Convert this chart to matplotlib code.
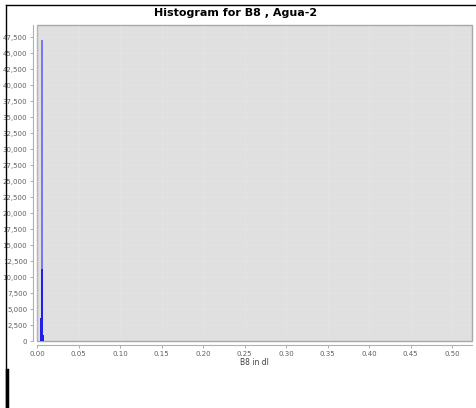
import numpy as np
import matplotlib
matplotlib.use("Agg")
import matplotlib.pyplot as plt
from matplotlib.lines import Line2D
from matplotlib.ticker import FuncFormatter, MultipleLocator

# histogram values (two series overlap in one column)
bin_centers = [0.0045, 0.0060, 0.0060, 0.0080]
bin_counts = [3600, 47000, 11200, 900]
bin_colors = ["#2020e8", "#7878f4", "#2020e8", "#2020e8"]
bin_width = 0.0015

title = "Histogram for B8 , Agua-2"
x_label = "B8 in dl"

fig = plt.figure(figsize=(4.77, 4.08), dpi=100)
fig.patch.set_facecolor("white")

# plot area
ax = fig.add_axes([37 / 477, 1 - 341 / 408, 435 / 477, 316 / 408])
ax.set_facecolor("#e0e0e0")
ax.patch.set_edgecolor("#a8a8a8")
ax.patch.set_linewidth(1.0)

for x, h, c in zip(bin_centers, bin_counts, bin_colors):
    ax.bar(x, h, width=bin_width, color=c, linewidth=0, align="center", zorder=3)

ax.set_xlim(0, 0.524)
ax.set_ylim(0, 49400)
ax.xaxis.set_major_locator(MultipleLocator(0.05))
ax.yaxis.set_major_locator(MultipleLocator(2500))
ax.xaxis.set_major_formatter(FuncFormatter(lambda v, p: "{:.2f}".format(v)))
ax.yaxis.set_major_formatter(FuncFormatter(lambda v, p: "{:,.0f}".format(v)))

ax.grid(True, color="#f2f2f2", linestyle=(0, (1, 2)), linewidth=0.4, zorder=1)
ax.set_axisbelow(True)

# offset axis lines like the original
for side in ["top", "right"]:
    ax.spines[side].set_visible(False)
for side in ["left", "bottom"]:
    ax.spines[side].set_position(("outward", 3))
    ax.spines[side].set_color("#b0b0b0")
    ax.spines[side].set_linewidth(0.8)

ax.tick_params(axis="both", length=2, width=0.6, color="#a0a0a0",
               labelsize=5, labelcolor="#606060", pad=2)
ax.set_xlabel(x_label, fontsize=5.5, color="#404040", labelpad=1)

fig.text(236 / 477, 1 - 13 / 408, title, ha="center", va="center",
         fontsize=8, fontweight="bold", color="black")

# frame lines around the figure
fig.add_artist(Line2D([6.5 / 477, 6.5 / 477], [0, 1 - 5 / 408],
                      transform=fig.transFigure, color="black", linewidth=1))
fig.add_artist(Line2D([7.5 / 477, 7.5 / 477], [0, 1 - 370 / 408],
                      transform=fig.transFigure, color="black", linewidth=2.5))
fig.add_artist(Line2D([6 / 477, 1], [1 - 5 / 408, 1 - 5 / 408],
                      transform=fig.transFigure, color="black", linewidth=1))

fig.savefig("out.png", dpi=100)
